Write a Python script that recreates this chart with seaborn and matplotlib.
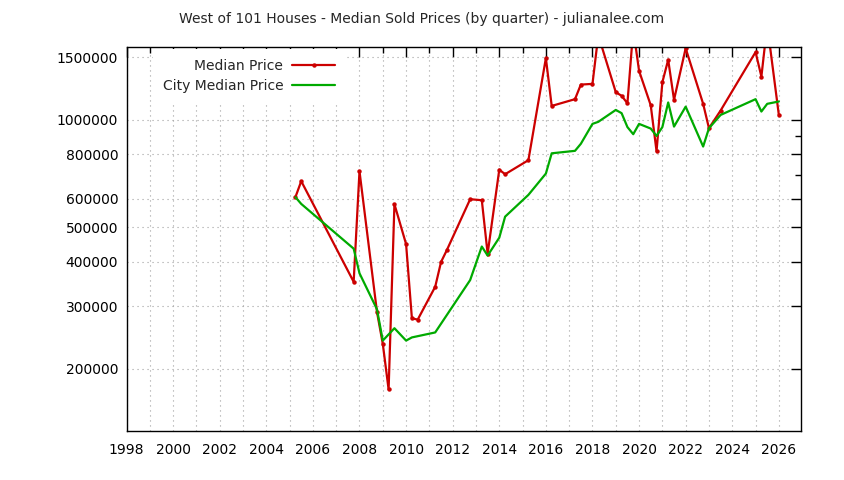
import matplotlib
matplotlib.use("Agg")
import matplotlib.pyplot as plt
import matplotlib.ticker as mticker
import pandas as pd
import seaborn as sns

# quarter (decimal year) and median sold price
quarters = [2005.25, 2005.5, 2007.75, 2008.0, 2008.75, 2009.0, 2009.25, 2009.5,
            2010.0, 2010.25, 2010.5, 2011.25, 2011.5, 2011.75, 2012.75, 2013.25,
            2013.5, 2014.0, 2014.25, 2015.25, 2016.0, 2016.25, 2017.25, 2017.5,
            2018.0, 2018.25, 2019.0, 2019.25, 2019.5, 2019.75, 2020.0, 2020.5,
            2020.75, 2021.0, 2021.25, 2021.5, 2022.0, 2022.75, 2023.0, 2023.5,
            2025.0, 2025.25, 2025.5, 2026.0]
median_price = [607000, 673000, 351000, 718000, 289000, 235000, 175000, 580000,
                448000, 277000, 275000, 340000, 399000, 431000, 599000, 595000,
                421000, 725000, 704000, 771000, 1492000, 1095000, 1144000, 1257000,
                1263000, 1730000, 1197000, 1169000, 1114000, 1800000, 1374000, 1100000,
                817000, 1277000, 1476000, 1139000, 1590000, 1110000, 948000, 1063000,
                1551000, 1324000, 1850000, 1032000]

city_quarters = [2005.25, 2005.5, 2007.75, 2008.0, 2008.75, 2009.0, 2009.5, 2010.0,
                 2010.25, 2011.25, 2012.75, 2013.25, 2013.5, 2014.0, 2014.25, 2015.25,
                 2016.0, 2016.25, 2017.25, 2017.5, 2018.0, 2018.25, 2019.0, 2019.25,
                 2019.5, 2019.75, 2020.0, 2020.5, 2020.75, 2021.0, 2021.25, 2021.5,
                 2022.0, 2022.75, 2023.0, 2023.5, 2025.0, 2025.25, 2025.5, 2026.0]
city_median_price = [607000, 581000, 435000, 371000, 294000, 240000, 260000, 240000,
                     245000, 253000, 355000, 441000, 416000, 467000, 535000, 616000,
                     707000, 806000, 819000, 857000, 975000, 988000, 1067000, 1045000,
                     955000, 912000, 975000, 946000, 902000, 955000, 1120000, 958000,
                     1090000, 842000, 948000, 1033000, 1144000, 1056000, 1110000, 1127000]

y_ticks = [200000, 300000, 400000, 500000, 600000, 800000, 1000000, 1500000]
x_ticks = list(range(1998, 2027, 2))

sns.set_style("white")
plt.rcParams["font.family"] = ["DejaVu Sans"]
plt.rcParams["font.size"] = 10

med = pd.DataFrame({"quarter": quarters, "price": median_price})
city = pd.DataFrame({"quarter": city_quarters, "price": city_median_price})

fig = plt.figure(figsize=(8.44, 4.8), dpi=100)
ax = fig.add_axes([126.5 / 844, 1 - 430.7 / 480, (801 - 126.5) / 844, (430.7 - 47.3) / 480])

sns.lineplot(data=med, x="quarter", y="price", ax=ax, color="#cc0000", lw=1.6,
             marker="o", markersize=3.2, markeredgewidth=0, label="Median Price")
sns.lineplot(data=city, x="quarter", y="price", ax=ax, color="#00aa00", lw=1.6,
             label="City Median Price")

ax.set_yscale("log")
ax.set_ylim(134000, 1600000)
ax.set_xlim(1998.0, 2026.95)
ax.yaxis.set_major_locator(mticker.FixedLocator(y_ticks))
ax.yaxis.set_major_formatter(mticker.FixedFormatter([str(v) for v in y_ticks]))
ax.yaxis.set_minor_locator(mticker.FixedLocator([700000, 900000]))
ax.yaxis.set_minor_formatter(mticker.NullFormatter())
ax.xaxis.set_major_locator(mticker.FixedLocator(x_ticks))
ax.xaxis.set_major_formatter(mticker.FixedFormatter([str(v) for v in x_ticks]))
ax.xaxis.set_minor_locator(mticker.MultipleLocator(1))

ax.set_xlabel("")
ax.set_ylabel("")
ax.tick_params(which="both", direction="in", top=True, right=True, colors="black",
               width=1)
ax.tick_params(which="major", length=7)
ax.tick_params(which="minor", length=4)
ax.tick_params(axis="x", which="major", pad=9, labelsize=10)
ax.tick_params(axis="y", which="major", pad=6, labelsize=10)

ax.set_axisbelow(True)
grid_kw = dict(color="#a0a0a0", linestyle=(0, (1, 3.5)), linewidth=0.8)
ax.grid(True, axis="x", which="both", **grid_kw)
ax.grid(True, axis="y", which="major", **grid_kw)
for s in ax.spines.values():
    s.set_color("black")
    s.set_linewidth(1)

fig.text(0.5, 1 - 19 / 480, "West of 101 Houses - Median Sold Prices (by quarter) - julianalee.com",
         ha="center", va="center", fontsize=10)

ax.legend(markerfirst=False, loc="upper right",
          bbox_to_anchor=(345 / 844, 1 - 49 / 480), bbox_transform=fig.transFigure,
          frameon=True, edgecolor="none", facecolor="white", framealpha=1,
          fancybox=False, handlelength=3.1, handletextpad=0.65, labelspacing=0.42,
          borderpad=0.7, borderaxespad=0, fontsize=10)

fig.savefig("out.png", dpi=100)
